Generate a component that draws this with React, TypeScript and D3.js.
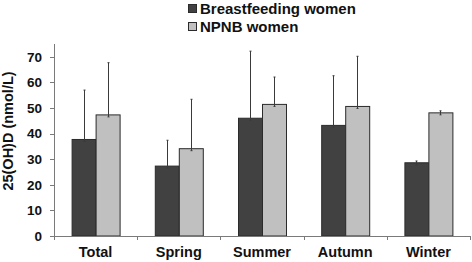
import React from "react";
import * as d3 from "d3";

const categories = ["Total", "Spring", "Summer", "Autumn", "Winter"];
const seriesNames = ["Breastfeeding women", "NPNB women"];
const breastfeedingMean = [37.9, 27.5, 46.2, 43.4, 28.8];
const breastfeedingSD = [19.1, 9.9, 26.0, 19.2, 0.5];
const npnbMean = [47.5, 34.3, 51.6, 50.8, 48.3];
const npnbSD = [20.2, 19.1, 10.5, 19.4, 0.6];
const yTicks = [0, 10, 20, 30, 40, 50, 60, 70];

const W = 472;
const H = 262;
const FONT = "'Liberation Sans', Arial, sans-serif";
const colors = ["#414141", "#c0c0c0"];

export default function App() {
  const left = 54;
  const right = 470;
  const y = d3.scaleLinear().domain([0, 75]).range([236, 44]);
  const x = d3.scaleBand<string>().domain(categories).range([left, right]);
  const barW = 24;
  const series = [
    { name: seriesNames[0], mean: breastfeedingMean, sd: breastfeedingSD },
    { name: seriesNames[1], mean: npnbMean, sd: npnbSD },
  ];
  const y0 = y(0);
  return (
    <svg width={W} height={H} style={{ position: "absolute", left: 0, top: 0, background: "#fff" }}>
      {categories.map((c, i) => {
        const cx = (x(c) as number) + x.bandwidth() / 2;
        return series.map((s, k) => {
          const bx = cx - barW + k * barW;
          const top = y(s.mean[i]);
          return (
            <g key={c + k}>
              <rect x={bx + 0.5} y={top + 0.5} width={barW} height={y0 - top - 0.5}
                fill={colors[k]} stroke="#2b2b2b" strokeWidth={1} />
            </g>
          );
        });
      })}
      {categories.map((c, i) => {
        const cx = (x(c) as number) + x.bandwidth() / 2;
        return series.map((s, k) => {
          const ex = Math.round(cx - barW / 2 + k * barW) + 0.5;
          const top = y(s.mean[i] + s.sd[i]);
          const bot = y(s.mean[i]) + 2.5;
          return (
            <g key={"e" + c + k} stroke="#3a3a3a" strokeWidth={1}>
              <line x1={ex} x2={ex} y1={top} y2={bot} />
              <line x1={ex - 1} x2={ex + 1} y1={top} y2={top} />
              <line x1={ex - 1} x2={ex + 1} y1={bot} y2={bot} />
            </g>
          );
        });
      })}
      <line x1={left + 0.5} x2={left + 0.5} y1={y(75)} y2={y0} stroke="#7a7a7a" strokeWidth={1} />
      {yTicks.map((t) => (
        <g key={t}>
          <line x1={left - 4} x2={left} y1={Math.round(y(t)) + 0.5} y2={Math.round(y(t)) + 0.5} stroke="#7a7a7a" />
          <text x={left - 12} y={y(t)} dy="0.36em" textAnchor="end" fontFamily={FONT}
            fontWeight="bold" fontSize={13.5} fill="#111">{t}</text>
        </g>
      ))}
      <line x1={left} x2={right + 1} y1={y0 + 0.5} y2={y0 + 0.5} stroke="#7a7a7a" strokeWidth={1} />
      {categories.concat([""]).map((c, i) => {
        const px = Math.round(left + i * x.bandwidth()) + 0.5;
        return <line key={"xt" + i} x1={px} x2={px} y1={y0} y2={y0 + 4} stroke="#7a7a7a" />;
      })}
      {categories.map((c) => (
        <text key={"xl" + c} x={(x(c) as number) + x.bandwidth() / 2} y={257}
          textAnchor="middle" fontFamily={FONT} fontWeight="bold" fontSize={14.5} fill="#111">{c}</text>
      ))}
      <text transform={`translate(13,131) rotate(-90)`} textAnchor="middle" fontFamily={FONT}
        fontWeight="bold" fontSize={14.5} fill="#111">25(OH)D (nmol/L)</text>
      {series.map((s, k) => (
        <g key={"lg" + k} transform={`translate(188,${4 + k * 18})`}>
          <rect x={0.5} y={0.5} width={8} height={8} fill={colors[k]} stroke="#2b2b2b" />
          <text x={12} y={10} fontFamily={FONT} fontWeight="bold" fontSize={15} fill="#111">{s.name}</text>
        </g>
      ))}
    </svg>
  );
}
